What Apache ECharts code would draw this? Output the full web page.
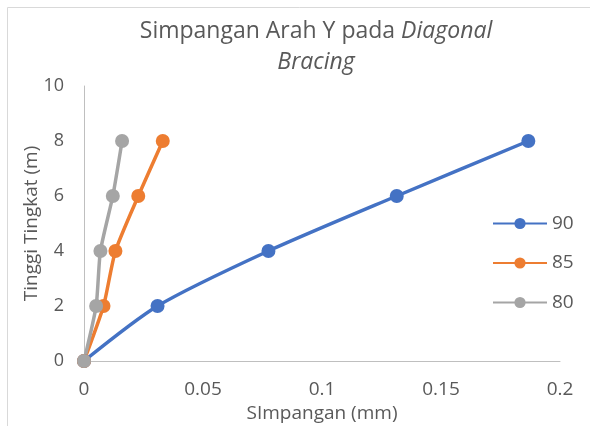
<!DOCTYPE html>
<html><head><meta charset="utf-8">
<script src="https://cdn.jsdelivr.net/npm/echarts@6/dist/echarts.min.js"></script>
<style>html,body{margin:0;padding:0;background:#fff}#c{width:590px;height:426px}</style>
</head><body><div id="c"></div>
<script>
var heights = [0, 2, 4, 6, 8];
var s90 = [0, 0.0309, 0.0775, 0.1314, 0.1867];
var s85 = [0, 0.0082, 0.0132, 0.0228, 0.0331];
var s80 = [0, 0.0051, 0.0069, 0.0121, 0.0160];
var seriesNames = ['90', '85', '80'];
var colors = ['#4472C4', '#ED7D31', '#A5A5A5'];
var xTicks = [0, 0.05, 0.1, 0.15, 0.2];

function pairs(xs){ return xs.map(function(x,i){ return [x, heights[i]]; }); }
var chart = echarts.init(document.getElementById('c'));
var font = 'Open Sans';
function mk(name, xs, color, smooth){
  return {name:name, type:'line', data:pairs(xs), smooth:smooth, symbol:'circle', symbolSize:14,
    lineStyle:{color:color, width:3.5}, itemStyle:{color:color}, z: 3};
}
chart.setOption({
  animation:false,
  graphic:[{type:'rect', shape:{x:7.5,y:7.5,width:590,height:430}, style:{fill:'none', stroke:'#d9d9d9', lineWidth:1}, silent:true}],
  title:{text:'Simpangan Arah Y pada {i|Diagonal}\n{i|Bracing}', left:311, textAlign:'center', top:11,
    textStyle:{fontFamily:font, fontSize:23, fontWeight:'normal', color:'#595959', lineHeight:31,
      rich:{i:{fontStyle:'italic', fontFamily:font, fontSize:23, color:'#595959', lineHeight:31}}}},
  legend:{orient:'vertical', left:487, top:209, itemGap:20.5, itemWidth:54, itemHeight:14,
    textStyle:{fontFamily:font, fontSize:19, color:'#595959'}, data:seriesNames},
  grid:{left:84, right:30, top:86, bottom:65, containLabel:false, outerBoundsMode:'none'},
  xAxis:{type:'value', min:0, max:0.2, interval:0.05, name:'SImpangan (mm)', nameLocation:'middle', nameGap:40,
    nameTextStyle:{fontFamily:font, fontSize:19, color:'#595959'},
    axisLine:{show:true, lineStyle:{color:'#bfbfbf', width:1}}, axisTick:{show:false}, splitLine:{show:false},
    axisLabel:{fontFamily:font, fontSize:19, color:'#595959', margin:19,
      formatter:function(v){ var t = xTicks.find(function(k){return Math.abs(k-v)<1e-9;}); return t===undefined? '' : String(t); }}},
  yAxis:{type:'value', min:0, max:10, interval:2, name:'Tinggi Tingkat (m)', nameLocation:'middle', nameGap:43, nameMoveOverlap:false,
    nameTextStyle:{fontFamily:font, fontSize:19, color:'#595959'},
    axisLine:{show:true, lineStyle:{color:'#bfbfbf', width:1}}, axisTick:{show:false}, splitLine:{show:false},
    axisLabel:{fontFamily:font, fontSize:18, color:'#595959', margin:20}},
  series:[mk('90', s90, colors[0], 0.25), mk('85', s85, colors[1], 0.2), mk('80', s80, colors[2], 0.2)]
});
</script></body></html>
